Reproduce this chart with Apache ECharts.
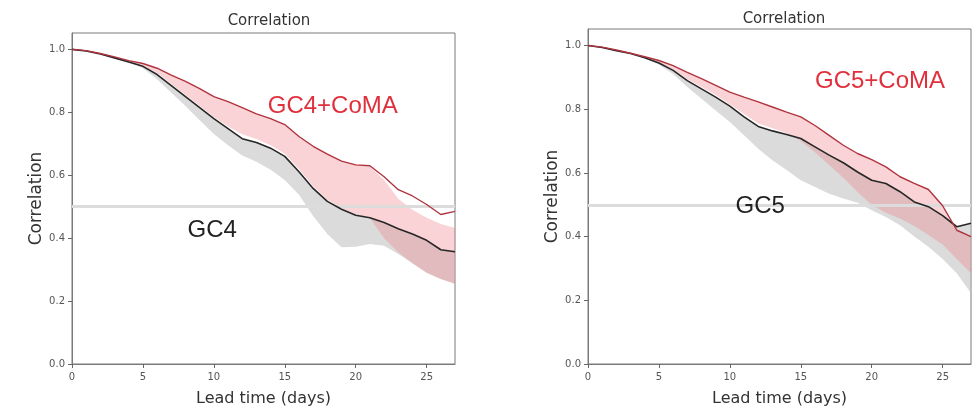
<!DOCTYPE html>
<html>
<head>
<meta charset="utf-8">
<script src="https://cdn.jsdelivr.net/npm/echarts@6/dist/echarts.min.js"></script>
<style>
  html, body { margin: 0; padding: 0; background: #ffffff; }
  #chart { width: 977px; height: 412px; }
</style>
</head>
<body>
<div id="chart"></div>
<script>
// Lead time in days
const days = [0, 1, 2, 3, 4, 5, 6, 7, 8, 9, 10, 11, 12, 13, 14, 15, 16, 17, 18, 19, 20, 21, 22, 23, 24, 25, 26, 27];

// Tick labels
const xTicks = [0, 5, 10, 15, 20, 25];
const yTicks = [0, 0.2, 0.4, 0.6, 0.8, 1.0];

// ---- GC4 panel ----
const gc4 = [1.000, 0.995, 0.985, 0.973, 0.960, 0.946, 0.920, 0.885, 0.850, 0.815, 0.780, 0.748, 0.716, 0.704, 0.686, 0.660, 0.611, 0.558, 0.517, 0.492, 0.473, 0.465, 0.450, 0.430, 0.413, 0.393, 0.363, 0.357];
const gc4Low = [1.000, 0.995, 0.985, 0.972, 0.958, 0.940, 0.905, 0.862, 0.820, 0.775, 0.731, 0.695, 0.663, 0.643, 0.617, 0.585, 0.538, 0.470, 0.413, 0.371, 0.373, 0.381, 0.376, 0.350, 0.320, 0.290, 0.270, 0.255];
const gc4Coma = [1.000, 0.996, 0.987, 0.976, 0.964, 0.955, 0.940, 0.918, 0.898, 0.875, 0.850, 0.834, 0.815, 0.795, 0.780, 0.761, 0.723, 0.692, 0.667, 0.645, 0.633, 0.630, 0.595, 0.554, 0.534, 0.507, 0.475, 0.485];
const gc4ComaHigh = [1.000, 0.996, 0.987, 0.976, 0.964, 0.955, 0.940, 0.918, 0.898, 0.875, 0.850, 0.834, 0.815, 0.795, 0.780, 0.761, 0.723, 0.692, 0.667, 0.645, 0.633, 0.628, 0.585, 0.525, 0.490, 0.465, 0.445, 0.432];
const gc4ComaLow = [1.000, 0.995, 0.985, 0.973, 0.960, 0.946, 0.925, 0.890, 0.855, 0.820, 0.785, 0.755, 0.730, 0.715, 0.695, 0.668, 0.620, 0.565, 0.522, 0.495, 0.475, 0.465, 0.400, 0.355, 0.320, 0.290, 0.270, 0.255];

// ---- GC5 panel ----
const gc5 = [1.000, 0.994, 0.984, 0.975, 0.962, 0.945, 0.922, 0.890, 0.864, 0.838, 0.810, 0.776, 0.746, 0.732, 0.721, 0.708, 0.682, 0.656, 0.632, 0.603, 0.577, 0.567, 0.541, 0.509, 0.494, 0.466, 0.431, 0.442];
const gc5Low = [1.000, 0.994, 0.984, 0.974, 0.960, 0.940, 0.911, 0.870, 0.833, 0.796, 0.760, 0.718, 0.676, 0.640, 0.609, 0.577, 0.556, 0.535, 0.520, 0.506, 0.483, 0.462, 0.436, 0.400, 0.368, 0.330, 0.285, 0.222];
const gc5Coma = [1.000, 0.995, 0.986, 0.976, 0.965, 0.953, 0.937, 0.916, 0.896, 0.875, 0.854, 0.838, 0.823, 0.807, 0.791, 0.776, 0.749, 0.718, 0.687, 0.661, 0.642, 0.619, 0.588, 0.567, 0.548, 0.497, 0.420, 0.400];
const gc5ComaLow = [1.000, 0.994, 0.984, 0.975, 0.962, 0.946, 0.925, 0.895, 0.870, 0.845, 0.815, 0.785, 0.755, 0.740, 0.725, 0.700, 0.665, 0.625, 0.585, 0.540, 0.500, 0.475, 0.457, 0.433, 0.405, 0.375, 0.330, 0.285];

const FONT = 'DejaVu Sans';
const LABEL_FONT = 'Liberation Sans';

const pairs = (ys) => days.map((d, i) => [d, ys[i]]);

// Shaded range between two curves, projected through the panel's axes
function band(idx, low, high, fill) {
  return {
    type: 'custom',
    xAxisIndex: idx,
    yAxisIndex: idx,
    silent: true,
    clip: true,
    z: 1,
    data: [[days[0], high[0]]],
    renderItem: function (params, api) {
      const pts = [];
      for (let i = 0; i < days.length; i++) pts.push(api.coord([days[i], high[i]]));
      for (let i = days.length - 1; i >= 0; i--) pts.push(api.coord([days[i], low[i]]));
      return { type: 'polygon', shape: { points: pts }, style: { fill: fill } };
    }
  };
}

function line(idx, ys, color, width, withRef) {
  const s = {
    type: 'line',
    xAxisIndex: idx,
    yAxisIndex: idx,
    data: pairs(ys),
    showSymbol: false,
    silent: true,
    z: 4,
    lineStyle: { color: color, width: width },
    itemStyle: { color: color }
  };
  if (withRef) {
    s.markLine = {
      silent: true,
      symbol: 'none',
      label: { show: false },
      z: 3,
      lineStyle: { color: '#dcdcdc', width: 3, type: 'solid' },
      data: [{ yAxis: 0.5 }]
    };
  }
  return s;
}

function xAxis(idx) {
  return {
    type: 'value', gridIndex: idx, min: 0, max: 27,
    splitLine: { show: false },
    axisLine: { show: true, lineStyle: { color: '#7a7a7a', width: 1 } },
    axisTick: { show: true, length: 4, customValues: xTicks, lineStyle: { color: '#666' } },
    axisLabel: { customValues: xTicks, margin: 8, fontFamily: FONT, fontSize: 10, color: '#555' },
    name: 'Lead time (days)', nameLocation: 'middle', nameGap: 27,
    nameTextStyle: { fontFamily: FONT, fontSize: 16, color: '#333' }
  };
}

function yAxis(idx) {
  return {
    type: 'value', gridIndex: idx, min: 0, max: 1.052,
    splitLine: { show: false },
    axisLine: { show: true, lineStyle: { color: '#7a7a7a', width: 1 } },
    axisTick: { show: true, length: 4, customValues: yTicks, lineStyle: { color: '#666' } },
    axisLabel: {
      customValues: yTicks, margin: 7, fontFamily: FONT, fontSize: 10, color: '#555',
      formatter: (v) => v.toFixed(1)
    },
    name: 'Correlation', nameLocation: 'middle', nameGap: 26,
    nameTextStyle: { fontFamily: FONT, fontSize: 17, color: '#333' }
  };
}

const GREY = 'rgba(190,190,190,0.55)';
const PINK = 'rgba(238,120,128,0.33)';

const chart = echarts.init(document.getElementById('chart'), null, { renderer: 'canvas' });

chart.setOption({
  animation: false,
  backgroundColor: '#ffffff',
  title: [
    { text: 'Correlation', left: 264, top: 9, textAlign: 'center',
      textStyle: { fontFamily: FONT, fontSize: 15, fontWeight: 'normal', color: '#333' } },
    { text: 'Correlation', left: 779, top: 7, textAlign: 'center',
      textStyle: { fontFamily: FONT, fontSize: 15, fontWeight: 'normal', color: '#333' } }
  ],
  grid: [
    { left: 72, top: 33, width: 383, height: 335, show: true, borderColor: '#7a7a7a', borderWidth: 1, backgroundColor: '#fff' },
    { left: 588, top: 29, width: 383, height: 337, show: true, borderColor: '#7a7a7a', borderWidth: 1, backgroundColor: '#fff' }
  ],
  xAxis: [xAxis(0), xAxis(1)],
  yAxis: [yAxis(0), yAxis(1)],
  series: [
    band(0, gc4Low, gc4, GREY),
    band(0, gc4ComaLow, gc4ComaHigh, PINK),
    line(0, gc4, '#262626', 1.6, true),
    line(0, gc4Coma, '#b0343f', 1.4, false),
    band(1, gc5Low, gc5, GREY),
    band(1, gc5ComaLow, gc5Coma, PINK),
    line(1, gc5, '#262626', 1.6, true),
    line(1, gc5Coma, '#b0343f', 1.4, false)
  ]
});

// Curve labels, anchored in data coordinates of each panel
const labels = [
  { grid: 0, at: [13.8, 0.82], text: 'GC4+CoMA', color: '#e0303c' },
  { grid: 0, at: [8.15, 0.424], text: 'GC4', color: '#222' },
  { grid: 1, at: [16.0, 0.889], text: 'GC5+CoMA', color: '#e0303c' },
  { grid: 1, at: [10.4, 0.495], text: 'GC5', color: '#222' }
];
chart.setOption({
  graphic: labels.map((l) => {
    const p = chart.convertToPixel({ gridIndex: l.grid }, l.at);
    return {
      type: 'text', x: p[0], y: p[1], z: 10, silent: true,
      style: { text: l.text, fill: l.color, font: '24px "' + LABEL_FONT + '"', textAlign: 'left', textVerticalAlign: 'middle' }
    };
  })
});
</script>
</body>
</html>
